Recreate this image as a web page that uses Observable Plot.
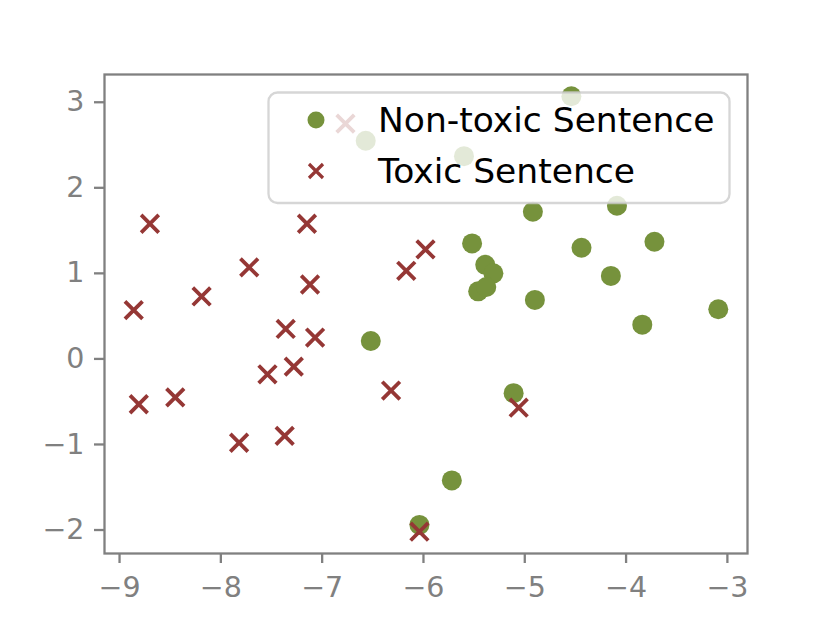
<!DOCTYPE html>
<html><head><meta charset="utf-8">
<script src="https://cdn.jsdelivr.net/npm/d3@7"></script>
<script src="https://cdn.jsdelivr.net/npm/@observablehq/plot@0.6"></script>
<style>body{margin:0;background:#fff;} #chart svg{display:block;}</style>
</head><body><div id="chart"></div>
<script>
const seriesNames = ["Non-toxic Sentence", "Toxic Sentence"];
const seriesColors = ["#76923C", "#953735"];
const nonToxicX = [-4.54, -6.57, -5.60, -4.92, -4.09, -5.52, -4.44, -3.72, -5.39, -5.31, -4.15, -5.46, -5.38, -4.90, -3.84, -3.09, -6.52, -5.11, -5.72, -6.04];
const nonToxicY = [3.07, 2.55, 2.37, 1.72, 1.79, 1.35, 1.30, 1.37, 1.10, 1.00, 0.97, 0.79, 0.84, 0.69, 0.40, 0.58, 0.21, -0.40, -1.42, -1.94];
const toxicX = [-6.77, -8.70, -7.15, -7.72, -8.19, -7.12, -6.17, -5.98, -8.86, -7.36, -7.07, -7.28, -7.54, -8.81, -8.45, -7.82, -7.37, -6.32, -6.04, -5.06];
const toxicY = [2.75, 1.58, 1.58, 1.07, 0.73, 0.87, 1.03, 1.28, 0.57, 0.35, 0.25, -0.09, -0.18, -0.53, -0.45, -0.98, -0.90, -0.37, -2.02, -0.57];
const xTicks = [-9, -8, -7, -6, -5, -4, -3];
const yTicks = [-2, -1, 0, 1, 2, 3];

const nonToxic = nonToxicX.map((x, i) => ({x, y: nonToxicY[i]}));
const toxic = toxicX.map((x, i) => ({x, y: toxicY[i]}));

const crossSymbol = {
  draw(ctx, size) {
    const r = Math.sqrt(size / Math.PI);
    ctx.moveTo(-r, -r); ctx.lineTo(r, r);
    ctx.moveTo(r, -r); ctx.lineTo(-r, r);
  }
};
const fmt = d => d < 0 ? "\u2212" + Math.abs(d) : String(d);
const gray = "#808080";

// matplotlib-style 5% margins
const xExt = d3.extent([...nonToxicX, ...toxicX]);
const yExt = d3.extent([...nonToxicY, ...toxicY]);
const xPad = (xExt[1] - xExt[0]) * 0.05, yPad = (yExt[1] - yExt[0]) * 0.05;

const plot = Plot.plot({
  width: 830, height: 623,
  marginLeft: 104, marginRight: 83, marginTop: 74, marginBottom: 70,
  style: {fontFamily: "DejaVu Sans", background: "white", overflow: "visible"},
  x: {domain: [xExt[0] - xPad, xExt[1] + xPad]},
  y: {domain: [yExt[0] - yPad, yExt[1] + yPad]},
  marks: [
    Plot.dot(nonToxic, {x: "x", y: "y", r: 10, fill: seriesColors[0], stroke: "none"}),
    Plot.dot(toxic, {x: "x", y: "y", r: 8.8, symbol: crossSymbol, stroke: seriesColors[1], strokeWidth: 3.8, fill: "none"}),
    Plot.frame({stroke: gray, strokeWidth: 2.3}),
    Plot.axisX({ticks: xTicks, tickFormat: fmt, tickSize: 10, tickPadding: 13, stroke: gray, fill: gray, strokeWidth: 2.3, fontSize: 28.5, label: null}),
    Plot.axisY({ticks: yTicks, tickFormat: fmt, tickSize: 10, tickPadding: 10, stroke: gray, fill: gray, strokeWidth: 2.3, fontSize: 28.5, label: null})
  ]
});
document.getElementById("chart").appendChild(plot);

// legend (matplotlib style, framealpha 0.8)
const svg = d3.select(plot);
const lg = svg.append("g").attr("text-anchor", "start");
lg.append("rect")
  .attr("x", 268.5).attr("y", 92.5).attr("width", 461).attr("height", 110.5).attr("rx", 9)
  .attr("fill", "white").attr("fill-opacity", 0.8)
  .attr("stroke", "#cccccc").attr("stroke-opacity", 0.8).attr("stroke-width", 2.3);
lg.append("circle").attr("cx", 316).attr("cy", 120).attr("r", 8.5).attr("fill", seriesColors[0]);
const cx = 316, cy = 171, h = 7;
lg.append("path").attr("d", `M${cx-h},${cy-h}L${cx+h},${cy+h}M${cx+h},${cy-h}L${cx-h},${cy+h}`)
  .attr("stroke", seriesColors[1]).attr("stroke-width", 3.2).attr("fill", "none");
seriesNames.forEach((name, i) => {
  lg.append("text").attr("x", 378).attr("y", 132 + i * 51).attr("text-anchor", "start")
    .attr("font-family", "DejaVu Sans").attr("font-size", 34.5).attr("fill", "black").text(name);
});
</script>
</body></html>
